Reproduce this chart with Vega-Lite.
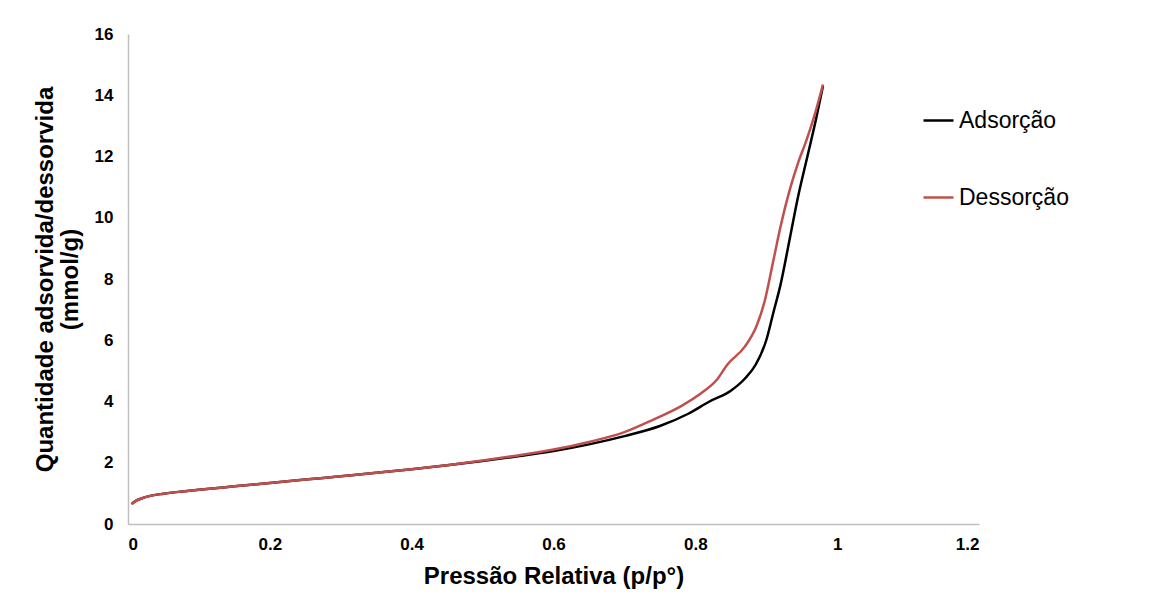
{
  "$schema": "https://vega.github.io/schema/vega-lite/v6.json",
  "autosize": {"type": "none"},
  "padding": {"left": 128, "top": 34, "right": 193, "bottom": 81},
  "width": 851,
  "height": 490,
  "background": "white",
  "config": {
    "font": "Liberation Sans",
    "view": {"stroke": null}
  },
  "data": {
    "values": [
      {"p": 0.005, "q": 0.65, "s": "Adsorção"},
      {"p": 0.01, "q": 0.74, "s": "Adsorção"},
      {"p": 0.02, "q": 0.84, "s": "Adsorção"},
      {"p": 0.03, "q": 0.91, "s": "Adsorção"},
      {"p": 0.05, "q": 0.99, "s": "Adsorção"},
      {"p": 0.08, "q": 1.07, "s": "Adsorção"},
      {"p": 0.1, "q": 1.12, "s": "Adsorção"},
      {"p": 0.15, "q": 1.23, "s": "Adsorção"},
      {"p": 0.2, "q": 1.34, "s": "Adsorção"},
      {"p": 0.25, "q": 1.45, "s": "Adsorção"},
      {"p": 0.3, "q": 1.56, "s": "Adsorção"},
      {"p": 0.35, "q": 1.67, "s": "Adsorção"},
      {"p": 0.4, "q": 1.79, "s": "Adsorção"},
      {"p": 0.45, "q": 1.92, "s": "Adsorção"},
      {"p": 0.5, "q": 2.06, "s": "Adsorção"},
      {"p": 0.55, "q": 2.21, "s": "Adsorção"},
      {"p": 0.6, "q": 2.38, "s": "Adsorção"},
      {"p": 0.65, "q": 2.6, "s": "Adsorção"},
      {"p": 0.7, "q": 2.87, "s": "Adsorção"},
      {"p": 0.75, "q": 3.2, "s": "Adsorção"},
      {"p": 0.79, "q": 3.6, "s": "Adsorção"},
      {"p": 0.82, "q": 4.0, "s": "Adsorção"},
      {"p": 0.85, "q": 4.35, "s": "Adsorção"},
      {"p": 0.87, "q": 4.75, "s": "Adsorção"},
      {"p": 0.885, "q": 5.2, "s": "Adsorção"},
      {"p": 0.9, "q": 6.0, "s": "Adsorção"},
      {"p": 0.91, "q": 6.9, "s": "Adsorção"},
      {"p": 0.92, "q": 7.8, "s": "Adsorção"},
      {"p": 0.933, "q": 9.3, "s": "Adsorção"},
      {"p": 0.945, "q": 10.7, "s": "Adsorção"},
      {"p": 0.957, "q": 11.9, "s": "Adsorção"},
      {"p": 0.97, "q": 13.2, "s": "Adsorção"},
      {"p": 0.98, "q": 14.3, "s": "Adsorção"},
      {"p": 0.005, "q": 0.65, "s": "Dessorção"},
      {"p": 0.01, "q": 0.74, "s": "Dessorção"},
      {"p": 0.02, "q": 0.84, "s": "Dessorção"},
      {"p": 0.03, "q": 0.91, "s": "Dessorção"},
      {"p": 0.05, "q": 0.99, "s": "Dessorção"},
      {"p": 0.08, "q": 1.07, "s": "Dessorção"},
      {"p": 0.1, "q": 1.12, "s": "Dessorção"},
      {"p": 0.15, "q": 1.23, "s": "Dessorção"},
      {"p": 0.2, "q": 1.34, "s": "Dessorção"},
      {"p": 0.25, "q": 1.45, "s": "Dessorção"},
      {"p": 0.3, "q": 1.56, "s": "Dessorção"},
      {"p": 0.35, "q": 1.67, "s": "Dessorção"},
      {"p": 0.4, "q": 1.79, "s": "Dessorção"},
      {"p": 0.45, "q": 1.92, "s": "Dessorção"},
      {"p": 0.5, "q": 2.07, "s": "Dessorção"},
      {"p": 0.55, "q": 2.24, "s": "Dessorção"},
      {"p": 0.6, "q": 2.43, "s": "Dessorção"},
      {"p": 0.65, "q": 2.68, "s": "Dessorção"},
      {"p": 0.7, "q": 3.0, "s": "Dessorção"},
      {"p": 0.74, "q": 3.4, "s": "Dessorção"},
      {"p": 0.78, "q": 3.85, "s": "Dessorção"},
      {"p": 0.81, "q": 4.3, "s": "Dessorção"},
      {"p": 0.83, "q": 4.7, "s": "Dessorção"},
      {"p": 0.845, "q": 5.2, "s": "Dessorção"},
      {"p": 0.87, "q": 5.8, "s": "Dessorção"},
      {"p": 0.886, "q": 6.45, "s": "Dessorção"},
      {"p": 0.898, "q": 7.3, "s": "Dessorção"},
      {"p": 0.91, "q": 8.6, "s": "Dessorção"},
      {"p": 0.92, "q": 9.7, "s": "Dessorção"},
      {"p": 0.933, "q": 10.9, "s": "Dessorção"},
      {"p": 0.945, "q": 11.8, "s": "Dessorção"},
      {"p": 0.957, "q": 12.55, "s": "Dessorção"},
      {"p": 0.97, "q": 13.5, "s": "Dessorção"},
      {"p": 0.98, "q": 14.35, "s": "Dessorção"}
    ]
  },
  "mark": {"type": "line", "strokeWidth": 2.5, "interpolate": "monotone"},
  "encoding": {
    "x": {
      "field": "p",
      "type": "quantitative",
      "scale": {"domain": [0, 1.2], "nice": false, "zero": false},
      "axis": {
        "values": [0, 0.2, 0.4, 0.6, 0.8, 1, 1.2],
        "format": "~g",
        "title": "Pressão Relativa (p/p°)",
        "titleFontSize": 24,
        "titleFontWeight": "bold",
        "titleColor": "#000000",
        "titlePadding": 12,
        "labelFontSize": 17,
        "labelFontWeight": "bold",
        "labelColor": "#000000",
        "labelPadding": 12,
        "ticks": false,
        "grid": false,
        "domainColor": "#BFBFBF",
        "domainWidth": 1.5
      }
    },
    "y": {
      "field": "q",
      "type": "quantitative",
      "scale": {"domain": [0, 16], "nice": false},
      "axis": {
        "values": [0, 2, 4, 6, 8, 10, 12, 14, 16],
        "title": ["Quantidade adsorvida/dessorvida", "(mmol/g)"],
        "titleFontSize": 24,
        "titleFontWeight": "bold",
        "titleColor": "#000000",
        "titleLineHeight": 25,
        "titlePadding": 12,
        "labelFontSize": 17,
        "labelFontWeight": "bold",
        "labelColor": "#000000",
        "labelPadding": 15,
        "ticks": false,
        "grid": false,
        "domainColor": "#BFBFBF",
        "domainWidth": 1.5
      }
    },
    "color": {
      "field": "s",
      "type": "nominal",
      "scale": {"domain": ["Adsorção", "Dessorção"], "range": ["#000000", "#C0504D"]},
      "legend": {
        "title": null,
        "orient": "none",
        "legendX": 794,
        "legendY": 70,
        "symbolType": "stroke",
        "symbolSize": 900,
        "symbolStrokeWidth": 2.5,
        "labelFontSize": 23,
        "labelColor": "#000000",
        "labelOffset": 4,
        "labelLimit": 300,
        "rowPadding": 48
      }
    }
  }
}
